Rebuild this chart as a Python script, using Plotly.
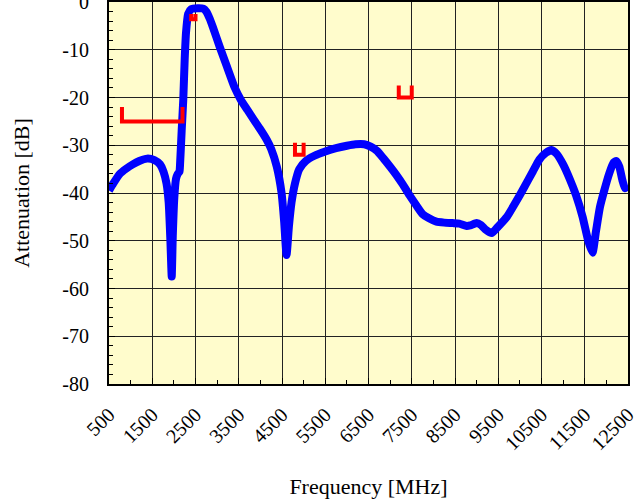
import plotly.graph_objects as go

# Blue response curve
freq = [500, 600, 750, 900, 1050, 1200, 1380, 1550, 1680, 1760, 1830, 1880, 1920, 1950,
        1975, 2010, 2050, 2090, 2130, 2140, 2180, 2217, 2250, 2280, 2330, 2400, 2550,
        2680, 2750, 2830, 2900, 3060, 3225, 3400, 3550, 3700, 3850, 4000, 4150, 4250,
        4380, 4490, 4550, 4605, 4660, 4720, 4800, 4900, 5050, 5250, 5500, 5750, 6000,
        6200, 6400, 6550, 6700, 6850, 7000, 7150, 7300, 7450, 7600, 7750, 7900, 8070,
        8250, 8445, 8600, 8770, 8850, 9000, 9100, 9200, 9350, 9500, 9700, 9900, 10100,
        10300, 10450, 10600, 10730, 10850, 11000, 11150, 11300, 11450, 11580, 11680,
        11760, 11850, 11950, 12070, 12170, 12230, 12300, 12370, 12430, 12500]
atten = [-39.5, -38.0, -36.0, -34.9, -34.0, -33.3, -32.8, -33.1, -34.0, -35.5, -38.0, -42.0, -50.0, -57.5,
         -49.0, -41.0, -37.0, -36.0, -35.5, -34.5, -27.0, -20.5, -12.0, -6.5, -2.5, -1.5, -1.3,
         -1.4, -2.0, -3.5, -5.2, -9.4, -13.5, -17.8, -20.5, -22.6, -24.7, -26.7, -28.9, -30.8,
         -34.5, -40.0, -46.0, -53.0, -47.0, -42.0, -38.0, -35.0, -33.3, -32.2, -31.3, -30.6, -30.1,
         -29.8, -29.8, -30.3, -31.2, -32.8, -34.5, -36.3, -38.3, -40.5, -42.5, -44.4, -45.3, -46.0,
         -46.2, -46.3, -46.4, -46.9, -46.8, -46.3, -46.7, -47.6, -48.4, -47.0, -45.0, -42.0, -38.8,
         -35.5, -33.0, -31.6, -31.0, -31.8, -34.0, -37.0, -40.5, -45.0, -50.0, -52.5,
         -48.0, -43.0, -39.5, -35.8, -33.6, -33.3, -34.5, -37.3, -39.0, -38.5]

# Red specification brackets
spec1_f = [800, 800, 2200, 2200]
spec1_a = [-22, -25, -25, -22]
spec2_f = [2400, 2400, 2500, 2500]
spec2_a = [-2.5, -3.6, -3.6, -2.5]
spec3_f = [4800, 4800, 5000, 5000]
spec3_a = [-29.5, -32, -32, -29.5]
spec4_f = [7200, 7200, 7500, 7500]
spec4_a = [-17.5, -20, -20, -17.5]

x_ticks = list(range(500, 12501, 1000))
x_tick_labels = [str(v) for v in x_ticks]
y_ticks = list(range(-80, 1, 10))
y_tick_labels = [str(v) for v in y_ticks]

fig = go.Figure()
fig.add_trace(go.Scatter(x=freq, y=atten, mode="lines",
                         line=dict(color="#0000FF", width=8, shape="spline", smoothing=0.5),
                         showlegend=False, hoverinfo="skip"))
for fx, ay in [(spec1_f, spec1_a), (spec2_f, spec2_a), (spec3_f, spec3_a), (spec4_f, spec4_a)]:
    fig.add_trace(go.Scatter(x=fx, y=ay, mode="lines",
                             line=dict(color="#FF0000", width=4),
                             showlegend=False, hoverinfo="skip"))

serif = "Liberation Serif, Times New Roman, serif"
tick_font = dict(family=serif, size=20, color="black")
title_font = dict(family=serif, size=22, color="black")
fig.update_layout(
    width=634, height=499,
    margin=dict(l=109, r=6, t=2, b=115),
    paper_bgcolor="white",
    plot_bgcolor="#FFFCCC",
    font=tick_font,
    xaxis=dict(
        range=[500, 12500], tickvals=x_ticks, ticktext=x_tick_labels,
        tickangle=-45, ticks="inside", ticklen=6, tickcolor="black",
        showgrid=True, gridcolor="#222", gridwidth=1,
        showline=True, linecolor="black", linewidth=2, mirror=True,
        minor=dict(dtick=500, tick0=500, ticks="inside", ticklen=4, tickcolor="black", showgrid=False),
        title=dict(text="Frequency [MHz]", font=title_font, standoff=28),
        zeroline=False, tickfont=tick_font, automargin=False, ticklabeloverflow="allow",
        ticklabelstandoff=9,
    ),
    yaxis=dict(
        range=[-80, 0], tickvals=y_ticks, ticktext=y_tick_labels,
        ticks="inside", ticklen=6, tickcolor="black",
        showgrid=True, gridcolor="#222", gridwidth=1,
        showline=True, linecolor="black", linewidth=2, mirror=True,
        minor=dict(dtick=2, tick0=0, ticks="inside", ticklen=4, tickcolor="black", showgrid=False),
        title=dict(text="Attenuation [dB]", font=title_font, standoff=27),
        zeroline=False, tickfont=tick_font, ticklabelstandoff=14, automargin=False,
        ticklabeloverflow="allow",
    ),
)
fig.write_html("out.html", config={"displayModeBar": False},
               post_script="document.body.style.margin='0px';")
